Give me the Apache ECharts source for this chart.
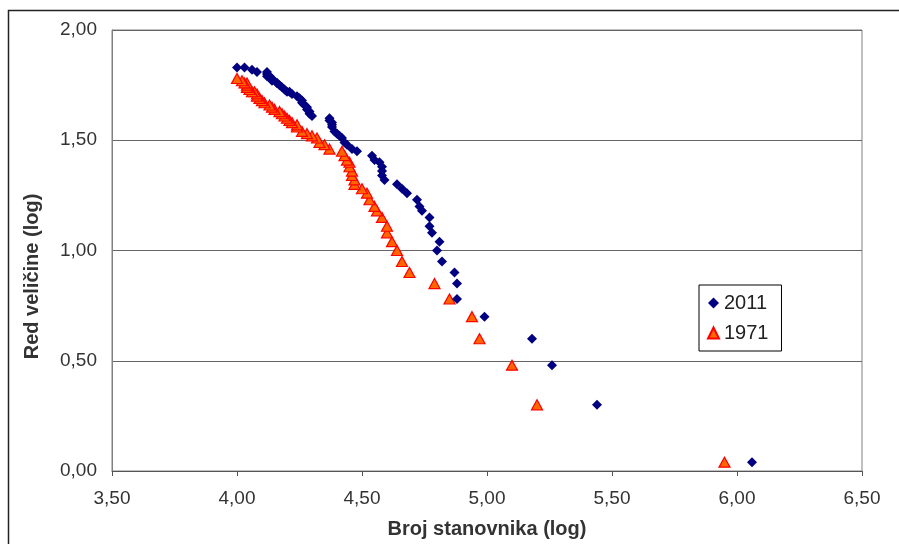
<!DOCTYPE html>
<html>
<head>
<meta charset="utf-8">
<script src="https://cdn.jsdelivr.net/npm/echarts@6/dist/echarts.min.js"></script>
<style>
html,body{margin:0;padding:0;background:#fff;}
#chart{width:899px;height:544px;}
</style>
</head>
<body>
<div id="chart"></div>
<script>
// log of rank (y values)
var rankLog = [0.04,0.30,0.48,0.60,0.70,0.78,0.85,0.90,0.95,1.00,1.04,1.08,1.11,1.15,1.18,1.20,1.23,1.26,1.28,1.30,1.32,1.34,1.36,1.38,1.40,1.41,1.43,1.45,1.46,1.48,1.49,1.51,1.52,1.53,1.54,1.56,1.57,1.58,1.59,1.60,1.61,1.62,1.63,1.64,1.65,1.66,1.67,1.68,1.69,1.70,1.71,1.72,1.72,1.73,1.74,1.75,1.76,1.76,1.77,1.78,1.79,1.79,1.80,1.81,1.81,1.82,1.83,1.83];
// log of population, 2011 (rank 1..68)
var pop2011 = [6.06,5.44,5.26,5.18,4.99,4.88,4.88,4.87,4.82,4.80,4.81,4.78,4.77,4.77,4.74,4.73,4.72,4.68,4.66,4.64,4.59,4.58,4.58,4.58,4.57,4.55,4.54,4.48,4.46,4.44,4.43,4.42,4.41,4.40,4.39,4.38,4.38,4.38,4.37,4.37,4.30,4.29,4.29,4.28,4.28,4.27,4.26,4.26,4.25,4.24,4.22,4.21,4.20,4.19,4.18,4.17,4.16,4.16,4.14,4.14,4.13,4.12,4.12,4.12,4.08,4.06,4.03,4.00];
// log of population, 1971 (rank 1..60)
var pop1971 = [5.95,5.20,5.10,4.97,4.94,4.85,4.79,4.69,4.66,4.64,4.62,4.60,4.60,4.58,4.56,4.55,4.53,4.52,4.50,4.47,4.47,4.46,4.46,4.45,4.45,4.44,4.43,4.42,4.37,4.35,4.33,4.32,4.30,4.28,4.26,4.24,4.24,4.22,4.21,4.20,4.19,4.18,4.17,4.15,4.14,4.13,4.11,4.10,4.09,4.08,4.08,4.07,4.06,4.05,4.04,4.04,4.04,4.03,4.02,4.00];
var seriesNames = ['2011','1971'];
var xAxisName = 'Broj stanovnika (log)';
var yAxisName = 'Red veličine (log)';

function pairs(xs, ys){ var out=[]; for(var i=0;i<xs.length;i++){ out.push([xs[i], ys[i]]); } return out; }
function fmt(v){ return v.toFixed(2).replace('.', ','); }

var FONT = "'Liberation Sans', Arial, sans-serif";
var chart = echarts.init(document.getElementById('chart'), null, {renderer:'canvas'});
chart.setOption({
  animation:false,
  backgroundColor:'#fff',
  textStyle:{fontFamily:FONT},
  graphic:[{type:'rect', shape:{x:8.5,y:10.5,width:1000,height:1000}, style:{fill:'none', stroke:'#222', lineWidth:1.5}, silent:true}],
  grid:{left:112, right:37, top:30, bottom:71, show:true, borderColor:'#808080', borderWidth:1, backgroundColor:'transparent'},
  legend:{
    orient:'vertical', left:699, top:285,
    data:[{name:'2011', icon:'diamond'},{name:'1971', icon:'triangle'}],
    itemWidth:11, itemHeight:11, itemGap:10,
    padding:[8,13,8,8],
    borderColor:'#000', borderWidth:1, backgroundColor:'#fff',
    textStyle:{fontFamily:FONT, fontSize:20, color:'#222', lineHeight:20}
  },
  xAxis:{
    type:'value', min:3.5, max:6.5, interval:0.5,
    name:xAxisName, nameLocation:'middle', nameGap:48,
    nameTextStyle:{fontFamily:FONT, fontSize:20, fontWeight:'bold', color:'#333'},
    axisLine:{show:true, onZero:false, lineStyle:{color:'#555', width:1}},
    axisTick:{show:true, length:5, lineStyle:{color:'#555'}},
    axisLabel:{margin:18, fontFamily:FONT, fontSize:19, color:'#333', formatter:fmt},
    splitLine:{show:false}
  },
  yAxis:{
    type:'value', min:0, max:2, interval:0.5,
    name:yAxisName, nameLocation:'middle', nameGap:70,
    nameTextStyle:{fontFamily:FONT, fontSize:20, fontWeight:'bold', color:'#333', padding:[0,52,0,0]},
    axisLine:{show:true, lineStyle:{color:'#808080', width:1}},
    axisTick:{show:false},
    axisLabel:{margin:15, fontFamily:FONT, fontSize:19, color:'#333', formatter:fmt},
    splitLine:{show:true, lineStyle:{color:'#666', width:1}}
  },
  series:[
    {name:seriesNames[0], type:'scatter', symbol:'diamond', symbolSize:10, z:3,
     itemStyle:{color:'#000080', opacity:1}, data:pairs(pop2011, rankLog)},
    {name:seriesNames[1], type:'scatter', symbol:'triangle', symbolSize:[11,10], z:2,
     itemStyle:{color:'#FF6600', borderColor:'#FF0000', borderWidth:1.2, opacity:1}, data:pairs(pop1971, rankLog.slice(0, pop1971.length))}
  ]
});
</script>
</body>
</html>
